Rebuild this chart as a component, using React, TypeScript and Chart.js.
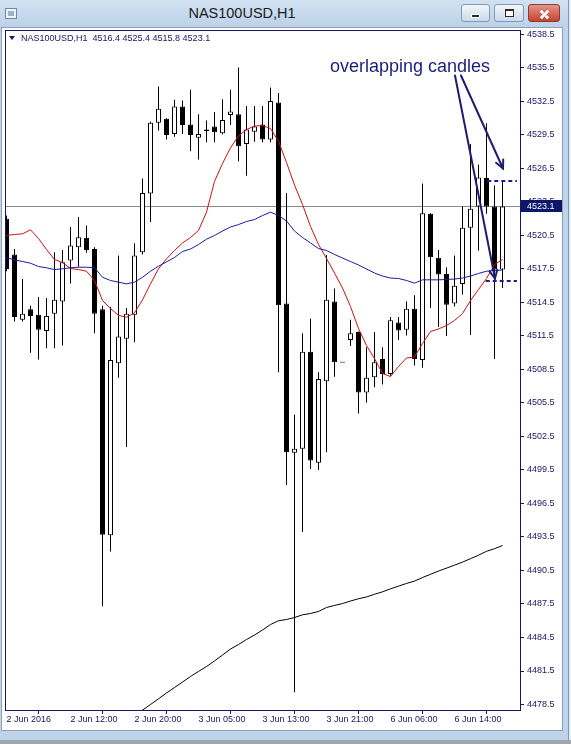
import React, { useEffect, useRef } from 'react';
import { Chart, registerables } from 'chart.js';

Chart.register(...registerables);

// ---------------- data ----------------
const symbolTitle = 'NAS100USD,H1';
const headerOHLC = ['4516.4', '4525.4', '4515.8', '4523.1'];

const opens = [
  4522.0, 4518.8, 4512.95, 4513.9, 4513.4, 4511.95, 4513.5, 4514.6, 4518.25, 4519.45,
  4520.3, 4519.3, 4513.9, 4493.65, 4509.05, 4511.25, 4513.4, 4519.0, 4524.25, 4530.6,
  4530.95, 4529.6, 4532.05, 4530.45, 4529.25, 4530.0, 4530.25, 4529.65, 4531.3, 4531.35,
  4528.7, 4529.8, 4530.45, 4529.1, 4532.4, 4514.4, 4501.05, 4501.4, 4510.1, 4500.15,
  4507.45, 4514.6, 4509.15, 4511.15, 4511.85, 4506.45, 4507.8, 4509.45, 4508.1, 4512.7,
  4512.05, 4513.95, 4509.35, 4522.45, 4518.5, 4517.05, 4514.4, 4516.15, 4521.2, 4523.1,
  4525.65, 4523.1, 4517.45,
];
const highs = [
  4522.3, 4519.3, 4516.6, 4514.2, 4515.0, 4514.9, 4519.0, 4519.2, 4521.25, 4522.15,
  4521.4, 4519.45, 4514.2, 4514.1, 4518.7, 4514.0, 4519.8, 4525.6, 4530.7, 4533.85,
  4531.0, 4532.65, 4532.6, 4533.55, 4531.35, 4530.8, 4531.55, 4532.7, 4533.55, 4535.55,
  4532.1, 4532.1, 4532.1, 4533.75, 4533.25, 4524.3, 4504.45, 4511.75, 4513.05, 4508.25,
  4518.75, 4515.75, 4509.15, 4512.95, 4511.9, 4510.5, 4511.85, 4510.5, 4513.2, 4513.2,
  4514.6, 4515.15, 4525.15, 4522.5, 4519.2, 4517.65, 4518.7, 4523.1, 4528.7, 4526.85,
  4530.55, 4525.0, 4525.4,
];
const lows = [
  4517.3, 4512.8, 4512.8, 4510.0, 4509.4, 4510.4, 4510.4, 4510.65, 4516.2, 4517.7,
  4518.95, 4511.75, 4487.3, 4492.2, 4507.75, 4501.55, 4510.95, 4518.8, 4521.7, 4529.9,
  4529.1, 4529.35, 4529.6, 4528.05, 4527.3, 4528.85, 4528.85, 4529.55, 4530.4, 4527.15,
  4525.85, 4528.9, 4528.85, 4528.85, 4508.25, 4498.15, 4479.6, 4493.95, 4499.6, 4499.5,
  4501.1, 4507.85, 4509.15, 4510.6, 4504.55, 4505.55, 4506.9, 4507.15, 4507.95, 4511.15,
  4511.55, 4508.85, 4508.65, 4514.0, 4512.3, 4511.5, 4514.15, 4515.2, 4511.6, 4519.15,
  4522.45, 4509.45, 4515.8,
];
const closes = [
  4517.5, 4513.2, 4513.5, 4513.3, 4512.05, 4513.3, 4514.75, 4518.1, 4519.6, 4520.35,
  4519.2, 4513.5, 4493.7, 4509.35, 4511.45, 4513.5, 4518.7, 4524.3, 4530.6, 4531.85,
  4529.5, 4532.05, 4530.4, 4529.5, 4529.6, 4529.85, 4529.75, 4530.85, 4531.6, 4528.5,
  4530.0, 4530.25, 4529.1, 4532.55, 4514.25, 4501.1, 4501.4, 4510.1, 4500.35, 4507.65,
  4514.75, 4509.15, 4509.15, 4511.75, 4506.45, 4507.75, 4509.15, 4508.1, 4512.9, 4512.0,
  4513.95, 4509.45, 4522.5, 4518.55, 4517.0, 4514.3, 4516.0, 4521.2, 4522.9, 4525.7,
  4523.1, 4517.45, 4523.1,
];

// moving averages
const maFast = [
  4520.50, 4520.59, 4520.65, 4521.01, 4520.23, 4519.25, 4518.35, 4518.08, 4517.54, 4517.45,
  4517.30, 4516.47, 4514.68, 4513.96, 4513.34, 4513.18, 4513.58, 4514.74, 4516.17, 4517.52,
  4518.41, 4519.16, 4519.83, 4520.32, 4520.95, 4522.59, 4525.34, 4526.95, 4528.35, 4529.42,
  4529.99, 4530.30, 4530.35, 4530.08, 4528.94, 4527.04, 4525.02, 4523.28, 4521.31, 4519.69,
  4518.44, 4517.14, 4515.80, 4514.14, 4512.17, 4510.65, 4509.48, 4508.14, 4507.87, 4508.77,
  4509.53, 4509.62, 4510.83, 4511.90, 4512.13, 4512.44, 4512.89, 4513.51, 4514.68, 4515.66,
  4516.65, 4517.90, 4518.35,
];
const maMid = [
  4518.50, 4518.32, 4518.17, 4518.02, 4517.72, 4517.61, 4517.45, 4517.52, 4517.61, 4517.66,
  4517.66, 4517.61, 4516.76, 4516.47, 4516.32, 4516.17, 4516.32, 4516.76, 4517.30, 4517.75,
  4518.14, 4518.53, 4519.07, 4519.29, 4519.69, 4520.17, 4520.50, 4520.90, 4521.26, 4521.48,
  4521.75, 4521.93, 4522.29, 4522.59, 4522.29, 4521.80, 4520.90, 4520.32, 4519.83, 4519.33,
  4519.16, 4518.80, 4518.48, 4518.17, 4517.86, 4517.50, 4517.14, 4516.87, 4516.69, 4516.65,
  4516.47, 4516.23, 4516.53, 4516.53, 4516.53, 4516.56, 4516.60, 4516.69, 4516.87, 4517.10,
  4517.30, 4517.36, 4517.41,
];
const maSlow = [
  null, null, null, null, null, null, null, null, null, null,
  null, null, null, null, null, null, 4477.49, 4478.00, 4478.50, 4479.01,
  4479.53, 4480.02, 4480.51, 4481.01, 4481.46, 4481.90, 4482.40, 4482.93, 4483.47, 4483.87,
  4484.32, 4484.72, 4485.17, 4485.66, 4486.00, 4486.11, 4486.29, 4486.53, 4486.65, 4486.83,
  4487.19, 4487.37, 4487.54, 4487.77, 4487.97, 4488.13, 4488.37, 4488.59, 4488.86, 4489.10,
  4489.34, 4489.55, 4489.87, 4490.16, 4490.45, 4490.71, 4490.98, 4491.25, 4491.56, 4491.87,
  4492.22, 4492.45, 4492.74,
];

const priceTicks = [
  4478.5, 4481.5, 4484.5, 4487.5, 4490.5, 4493.5, 4496.5, 4499.5, 4502.5, 4505.5,
  4508.5, 4511.5, 4514.5, 4517.5, 4520.5, 4523.5, 4526.5, 4529.5, 4532.5, 4535.5, 4538.5,
];
const dateTickBars = [0, 8, 16, 24, 32, 40, 48, 56];
const dateTickLabels = [
  '2 Jun 2016', '2 Jun 12:00', '2 Jun 20:00', '3 Jun 05:00',
  '3 Jun 13:00', '3 Jun 21:00', '6 Jun 06:00', '6 Jun 14:00',
];

const currentPrice = 4523.1;
const noteText = 'overlapping candles';
const noteAnchor = [50.44, 4535.63];
const arrowStarts = [[56.06, 4534.83], [56.81, 4534.83]];
const arrowEnds = [[61.06, 4516.65], [62.06, 4526.5]];
const boxBars = [60.1, 63.8];
const boxPrices = [4525.4, 4516.4];

// ---------------- styles ----------------
const NAVY = '#161668';
const DOJI = '#4a80b8';
const FONT = "'Liberation Sans', Arial, sans-serif";

const mtPlugin = {
  id: 'mtDecor',
  beforeDatasetsDraw(chart: any) {
    const { ctx, chartArea: a, scales } = chart;
    const py = Math.round(scales.y.getPixelForValue(currentPrice)) + 0.5;
    ctx.save();
    ctx.strokeStyle = '#8a8a8a';
    ctx.lineWidth = 1;
    ctx.beginPath();
    ctx.moveTo(a.left, py);
    ctx.lineTo(a.right, py);
    ctx.stroke();
    ctx.restore();
  },
  afterDraw(chart: any) {
    const { ctx, chartArea: a, scales } = chart;
    const xs = scales.x;
    const ys = scales.y;
    ctx.save();
    // frame
    ctx.strokeStyle = NAVY;
    ctx.lineWidth = 1;
    ctx.strokeRect(a.left - 0.5, a.top - 0.5, a.right - a.left + 1, a.bottom - a.top + 1);

    // header
    ctx.fillStyle = NAVY;
    ctx.beginPath();
    ctx.moveTo(a.left + 3, a.top + 5);
    ctx.lineTo(a.left + 9, a.top + 5);
    ctx.lineTo(a.left + 6, a.top + 9);
    ctx.closePath();
    ctx.fill();
    ctx.font = `9px ${FONT}`;
    ctx.textBaseline = 'middle';
    ctx.textAlign = 'left';
    ctx.fillText(`${symbolTitle}  ${headerOHLC.join(' ')}`, a.left + 15, a.top + 7.5);

    // current price box
    const py = Math.round(ys.getPixelForValue(currentPrice));
    ctx.fillStyle = '#0c176a';
    ctx.fillRect(a.right + 1, py - 6, 41, 12);
    ctx.fillStyle = '#ffffff';
    ctx.font = `9px ${FONT}`;
    ctx.textBaseline = 'middle';
    ctx.fillText(currentPrice.toFixed(1), a.right + 7, py + 0.5);

    // clip for annotations
    ctx.beginPath();
    ctx.rect(a.left, a.top, a.right - a.left, a.bottom - a.top);
    ctx.clip();

    // note text
    ctx.fillStyle = '#1c1c7c';
    ctx.font = `18px ${FONT}`;
    ctx.textAlign = 'center';
    ctx.textBaseline = 'middle';
    ctx.fillText(noteText, xs.getPixelForValue(noteAnchor[0]), ys.getPixelForValue(noteAnchor[1]));

    // arrows
    ctx.strokeStyle = '#1e1e6e';
    ctx.lineWidth = 2;
    ctx.lineCap = 'round';
    arrowStarts.forEach((s, k) => {
      const e = arrowEnds[k];
      const x0 = xs.getPixelForValue(s[0]);
      const y0 = ys.getPixelForValue(s[1]);
      const x1 = xs.getPixelForValue(e[0]);
      const y1 = ys.getPixelForValue(e[1]);
      ctx.beginPath();
      ctx.moveTo(x0, y0);
      ctx.lineTo(x1, y1);
      ctx.stroke();
      const ang = Math.atan2(y1 - y0, x1 - x0);
      const L = 9;
      ctx.beginPath();
      ctx.moveTo(x1 - L * Math.cos(ang - 0.45), y1 - L * Math.sin(ang - 0.45));
      ctx.lineTo(x1, y1);
      ctx.lineTo(x1 - L * Math.cos(ang + 0.45), y1 - L * Math.sin(ang + 0.45));
      ctx.stroke();
    });

    // dashed box lines
    ctx.lineCap = 'butt';
    ctx.setLineDash([4, 3]);
    ctx.lineWidth = 2;
    ctx.strokeStyle = '#1e1e8a';
    boxPrices.forEach((p, k) => {
      const yy = Math.round(ys.getPixelForValue(p));
      ctx.beginPath();
      ctx.moveTo(xs.getPixelForValue(boxBars[0] - (k === 1 ? 0.2 : 0)), yy);
      ctx.lineTo(xs.getPixelForValue(boxBars[1]), yy);
      ctx.stroke();
    });
    ctx.restore();
  },
};

export default function App() {
  const ref = useRef<HTMLCanvasElement | null>(null);

  useEffect(() => {
    if (!ref.current) return;
    const n = opens.length;
    const wickData = opens.map((_, i) => ({ x: i, y: [lows[i], highs[i]] }));
    const bodyData = opens.map((o, i) => {
      const c = closes[i];
      if (o === c) return { x: i, y: [o - 0.045, o + 0.045] };
      return { x: i, y: [Math.min(o, c), Math.max(o, c)] };
    });
    const bodyBg = opens.map((o, i) => (closes[i] > o ? '#ffffff' : closes[i] < o ? '#000000' : DOJI));
    const bodyBorder = opens.map((o, i) => (closes[i] === o ? DOJI : '#000000'));
    const bodyBorderW = opens.map((o, i) => (closes[i] === o ? 0 : 1));
    const toPts = (arr: (number | null)[]) => arr.map((v, i) => ({ x: i, y: v }));

    const tickFont = { family: FONT, size: 9 };

    const chart = new Chart(ref.current, {
      type: 'bar',
      data: {
        datasets: [
          {
            type: 'bar',
            data: wickData as any,
            backgroundColor: '#000000',
            borderWidth: 0,
            barThickness: 1,
            grouped: false,
            inflateAmount: 0,
            order: 3,
            clip: 0,
          } as any,
          {
            type: 'bar',
            data: bodyData as any,
            backgroundColor: bodyBg,
            borderColor: bodyBorder,
            borderWidth: bodyBorderW,
            borderSkipped: false,
            barThickness: 5,
            grouped: false,
            inflateAmount: 0,
            order: 2,
            clip: 0,
          } as any,
          {
            type: 'line',
            data: toPts(maSlow) as any,
            borderColor: '#000000',
            borderWidth: 1,
            pointRadius: 0,
            tension: 0,
            fill: false,
            order: 1,
            clip: 0,
          } as any,
          {
            type: 'line',
            data: toPts(maMid) as any,
            borderColor: '#1a1aa0',
            borderWidth: 1,
            pointRadius: 0,
            tension: 0,
            fill: false,
            order: 1,
            clip: 0,
          } as any,
          {
            type: 'line',
            data: toPts(maFast) as any,
            borderColor: '#cc1010',
            borderWidth: 1,
            pointRadius: 0,
            tension: 0,
            fill: false,
            order: 1,
            clip: 0,
          } as any,
        ],
      },
      options: {
        animation: false,
        responsive: false,
        maintainAspectRatio: false,
        devicePixelRatio: 1,
        events: [],
        layout: { padding: { left: 6, top: 31, right: 10, bottom: 14 } },
        plugins: {
          legend: { display: false },
          tooltip: { enabled: false },
          title: { display: false },
        },
        scales: {
          x: {
            type: 'linear',
            min: -0.0625,
            max: n + 1.1875,
            offset: false,
            border: { display: false },
            grid: { drawOnChartArea: false, drawTicks: true, tickLength: 4, color: NAVY, lineWidth: 1 },
            ticks: {
              autoSkip: false,
              maxRotation: 0,
              minRotation: 0,
              align: 'start',
              padding: 0,
              color: NAVY,
              font: tickFont,
              callback: (value: any) => {
                const k = dateTickBars.indexOf(Number(value));
                return k >= 0 ? dateTickLabels[k] : '';
              },
            },
            afterBuildTicks: (scale: any) => {
              scale.ticks = dateTickBars.map((v) => ({ value: v }));
            },
            afterFit: (scale: any) => {
              scale.height = 20;
            },
          } as any,
          y: {
            type: 'linear',
            position: 'right',
            min: 4478.0075,
            max: 4538.813,
            border: { display: false },
            grid: { drawOnChartArea: false, drawTicks: true, tickLength: 4, color: NAVY, lineWidth: 1 },
            ticks: {
              padding: 3,
              color: NAVY,
              font: tickFont,
              autoSkip: false,
              callback: (value: any) => Number(value).toFixed(1),
            },
            afterBuildTicks: (scale: any) => {
              scale.ticks = priceTicks.map((v) => ({ value: v }));
            },
            afterFit: (scale: any) => {
              scale.width = 41;
            },
          } as any,
        },
      },
      plugins: [mtPlugin],
    } as any);
    return () => chart.destroy();
  }, []);

  const btnBase: React.CSSProperties = {
    position: 'absolute',
    top: 4,
    height: 18,
    boxSizing: 'border-box',
    borderRadius: 3,
  };

  return (
    <div
      style={{
        position: 'fixed',
        left: 0,
        top: 0,
        width: 571,
        height: 744,
        overflow: 'hidden',
        background: '#bfd4ea',
        fontFamily: FONT,
      }}
    >
      {/* title bar */}
      <div
        style={{
          position: 'absolute',
          left: 0,
          top: 0,
          width: 571,
          height: 27,
          background: 'linear-gradient(#d2e2f3, #bcd2e9)',
        }}
      />
      {/* window icon */}
      <div
        style={{
          position: 'absolute',
          left: 5,
          top: 8,
          width: 12,
          height: 11,
          boxSizing: 'border-box',
          border: '1px solid #6f87a6',
          background: '#eef3f9',
        }}
      >
        <div style={{ position: 'absolute', left: 2, top: 2, width: 6, height: 5, background: '#9bb3cf' }} />
      </div>
      <div
        style={{
          position: 'absolute',
          left: 142,
          top: 4,
          width: 200,
          textAlign: 'center',
          fontSize: 14.5,
          lineHeight: '18px',
          color: '#1b1b1b',
        }}
      >
        {symbolTitle}
      </div>
      {/* minimize */}
      <div
        style={{
          ...btnBase,
          left: 461,
          width: 29,
          border: '1px solid #8499b6',
          background: 'linear-gradient(#f1f6fb, #ccdaeb)',
        }}
      >
        <div
          style={{
            position: 'absolute',
            left: 9,
            top: 9,
            width: 9,
            height: 4,
            boxSizing: 'border-box',
            background: '#2a2a2a',
            border: '1px solid #ffffff',
          }}
        />
      </div>
      {/* restore */}
      <div
        style={{
          ...btnBase,
          left: 494,
          width: 30,
          border: '1px solid #8499b6',
          background: 'linear-gradient(#f1f6fb, #ccdaeb)',
        }}
      >
        <div
          style={{
            position: 'absolute',
            left: 10,
            top: 4,
            width: 9,
            height: 8,
            boxSizing: 'border-box',
            borderStyle: 'solid',
            borderColor: '#2a2a2a',
            borderWidth: '2px 1px 1px 1px',
            background: '#ffffff',
          }}
        />
      </div>
      {/* close */}
      <div
        style={{
          ...btnBase,
          left: 528,
          width: 32,
          border: '1px solid #8a3a2e',
          background: 'linear-gradient(#e6948a, #c8432f)',
        }}
      >
        <div
          style={{
            position: 'absolute',
            left: 10,
            top: 7.5,
            width: 11,
            height: 2.6,
            background: '#ffffff',
            transform: 'rotate(45deg)',
            boxShadow: '0 0 1px #5a1a10',
          }}
        />
        <div
          style={{
            position: 'absolute',
            left: 10,
            top: 7.5,
            width: 11,
            height: 2.6,
            background: '#ffffff',
            transform: 'rotate(-45deg)',
            boxShadow: '0 0 1px #5a1a10',
          }}
        />
      </div>
      {/* inner client area */}
      <div
        style={{
          position: 'absolute',
          left: 1,
          top: 27,
          width: 562,
          height: 704,
          boxSizing: 'border-box',
          border: '1px solid #8e9fb3',
          background: '#ffffff',
        }}
      />
      {/* right edge strip */}
      <div style={{ position: 'absolute', left: 568, top: 0, width: 1, height: 744, background: '#8296ad' }} />
      <div style={{ position: 'absolute', left: 569, top: 0, width: 2, height: 744, background: '#e6eef6' }} />
      {/* bottom gray */}
      <div style={{ position: 'absolute', left: 0, top: 740, width: 571, height: 4, background: '#a3a8ae' }} />
      <canvas
        ref={ref}
        width={571}
        height={744}
        style={{ position: 'absolute', left: 0, top: 0, width: 571, height: 744 }}
      />
    </div>
  );
}
